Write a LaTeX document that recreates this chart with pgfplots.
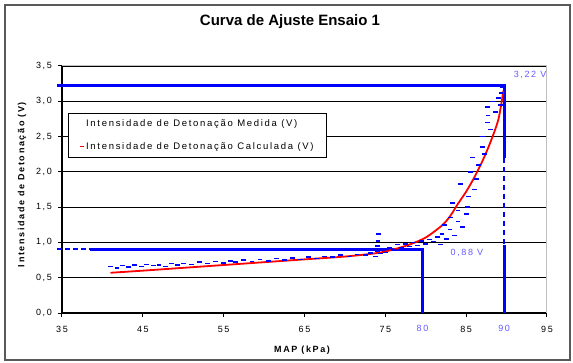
\documentclass[border=0pt]{standalone}
\usepackage{fontspec}
\setmainfont{Liberation Sans}
\newfontfamily\spfont[LetterSpace=18]{Liberation Sans}
\usepackage{pgfplots}
\pgfplotsset{compat=1.18}
\definecolor{lblue}{RGB}{100,90,255}
\begin{document}
\begin{tikzpicture}
\begin{axis}[name=ax, width=485bp, height=247bp, scale only axis, clip=false,
  xmin=35, xmax=95, ymin=0, ymax=3.5,
  xtick={35,45,...,95}, ytick={0,0.5,...,3.5},
  axis x line*=bottom, axis y line*=left,
  axis line style={black, line width=1.2bp, -},
  tick align=outside, major tick length=4bp, tick style={black, line width=1bp},
  ymajorgrids, grid style={black, line width=0.8bp},
  /pgf/number format/assume math mode=true,
  yticklabel style={/pgf/number format/fixed, /pgf/number format/fixed zerofill, /pgf/number format/precision=1, /pgf/number format/use comma,
    font=\spfont\fontsize{9bp}{10bp}\selectfont, anchor=east, inner sep=0pt, xshift=-6bp},
  xticklabel style={font=\spfont\fontsize{9bp}{10bp}\selectfont, anchor=center, inner sep=0pt, yshift=-12bp},
  title={Curva de Ajuste Ensaio 1},
  title style={at={(axis description cs:0.47,1.154)}, anchor=center, font=\bfseries\fontsize{15bp}{17bp}\selectfont},
  xlabel={MAP (kPa)},
  xlabel style={at={(axis description cs:0.495,-0.15)}, anchor=center, font=\spfont\bfseries\fontsize{9bp}{10bp}\selectfont},
  ylabel={Intensidade de Detonação (V)},
  ylabel style={at={(axis description cs:-0.0825,0.52)}, anchor=center, font=\spfont\bfseries\fontsize{9bp}{10bp}\selectfont},
  legend style={at={(axis description cs:0.0124,0.81)}, anchor=north west, draw=black, line width=0.8bp, fill=white,
    font=\spfont\fontsize{9.5bp}{11bp}\selectfont, inner xsep=11bp, inner ysep=4bp, row sep=11bp,
    /tikz/every even column/.style={column sep=2bp}},
  legend cell align=left,
  legend image code/.code={\draw[#1, line width=1.2bp] (0bp,0bp) -- (3.5bp,0bp);},
]
% reference lines
\addplot[blue, line width=2bp, dash pattern=on 5bp off 3bp, forget plot] coordinates {(34.4,0.9) (38.5,0.9)};
\addplot[blue, line width=2.5bp, forget plot] coordinates {(38.5,0.9) (79.6,0.9) (79.6,0)};
\addplot[blue, line width=3bp, forget plot] coordinates {(34.4,3.22) (89.7,3.22) (89.7,2.2)};
\addplot[blue, line width=1.5bp, dash pattern=on 5bp off 4bp, forget plot] coordinates {(89.7,2.2) (89.7,0.96)};
\addplot[blue, line width=3bp, forget plot] coordinates {(89.7,0.96) (89.7,0)};
% measured
\addplot[only marks, blue, mark=-, mark size=2.4bp, mark options={line width=1.5bp},
  legend image code/.code={}] coordinates {
(41.0,0.66) (41.8,0.64) (42.5,0.67) (43.2,0.65) (44.0,0.68) (44.8,0.66) (45.5,0.69) (46.3,0.67)
(47.0,0.68) (47.8,0.66) (48.5,0.70) (49.3,0.68) (50.0,0.70) (51.0,0.69) (52.0,0.72) (53.0,0.70)
(54.0,0.73) (55.0,0.71) (55.8,0.74) (56.5,0.72) (57.5,0.75) (58.5,0.73) (59.5,0.76) (60.5,0.74)
(61.5,0.77) (62.5,0.75) (63.5,0.78) (64.5,0.76) (65.5,0.79) (66.5,0.77) (67.5,0.80) (68.5,0.79)
(69.5,0.82) (70.5,0.80) (71.5,0.83) (72.5,0.82) (73.2,0.85) (73.8,0.80) (74.0,0.88) (74.0,0.95)
(74.1,1.02) (74.2,1.12) (74.4,0.84) (74.6,0.91) (75.0,0.86) (75.5,0.93) (76.0,0.89) (76.5,0.97)
(77.0,0.92) (77.5,0.98) (78.0,0.94) (78.5,1.00) (79.0,0.96) (79.5,1.02) (80.0,0.98) (80.5,1.04)
(81.0,1.01) (81.5,1.08) (81.8,0.97) (82.0,1.12) (82.3,1.25) (82.6,1.05) (83.0,1.18) (83.1,1.35)
(83.3,1.56) (83.6,1.10) (84.0,1.30) (84.0,1.45) (84.3,1.83) (84.5,1.22) (85.0,1.40) (85.2,1.50)
(85.5,2.00) (85.8,2.20) (85.3,1.65) (86.0,1.75) (86.3,1.90) (86.5,2.10) (87.0,2.35) (87.0,2.50)
(87.3,2.25) (87.6,2.70) (87.7,2.80) (87.6,2.92) (88.0,2.60) (88.3,3.00) (88.6,2.85) (89.0,3.05)
(89.3,3.12) (89.5,3.20) (89.2,2.95)
};
\addlegendentry{Intensidade de Detonação Medida (V)}
% calculated
\addplot[red, line width=1.8bp, smooth] coordinates {
(41,0.57) (45,0.60) (50,0.64) (55,0.68) (60,0.72) (65,0.76) (70,0.80) (74,0.85) (76,0.90)
(78,0.97) (80,1.07) (82,1.24) (83,1.37) (84,1.55) (85,1.72) (86,1.92) (87,2.15) (88,2.42)
(89,2.75) (89.6,3.15)
};
\addlegendentry{Intensidade de Detonação Calculada (V)}
% labels
\draw[lightgray, line width=1bp] (rel axis cs:0,1) -- (rel axis cs:1,1) -- (rel axis cs:1,0);
\node[text=lblue, font=\spfont\fontsize{9bp}{10bp}\selectfont] at (axis cs:79.6,0) [yshift=-15bp] {80};
\node[text=lblue, font=\spfont\fontsize{9bp}{10bp}\selectfont] at (axis cs:89.7,0) [yshift=-15bp] {90};
\node[text=lblue, font=\spfont\fontsize{9bp}{10bp}\selectfont] at (axis cs:92.9,3.37) {3,22 V};
\node[text=lblue, font=\spfont\fontsize{9bp}{10bp}\selectfont] at (axis cs:85.1,0.85) {0,88 V};
\end{axis}
\path (ax.south west) ++(-62bp,-50bp) rectangle ++(573bp,363bp);
\draw[gray!70!black, line width=1.5bp] (ax.south west) ++(-57bp,-47bp) rectangle ++(565bp,355bp);
\end{tikzpicture}
\end{document}
